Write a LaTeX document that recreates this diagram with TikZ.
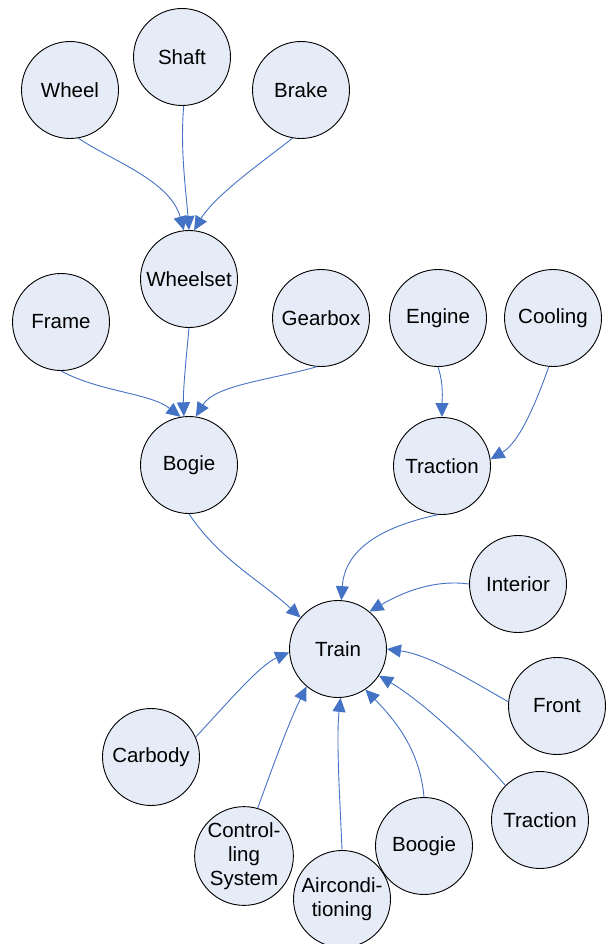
\documentclass[tikz,border=0pt]{standalone}
\usepackage{fontspec}
\setmainfont{Liberation Sans}
\usetikzlibrary{arrows.meta}
\definecolor{nodefill}{RGB}{230,236,247}
\definecolor{edgeblue}{RGB}{68,114,196}
\begin{document}
\begin{tikzpicture}[x=1pt,y=-1pt,
  part/.style={circle,draw=black,line width=0.9pt,fill=nodefill,minimum size=97pt,inner sep=0pt,
    font=\fontsize{20.5}{24}\selectfont,align=center},
  edge/.style={draw=edgeblue,line width=0.9pt,-{Triangle[length=14pt,width=13pt]}}]
\useasboundingbox (0,0) rectangle (613,944);

% components
\node[part] (wheel)    at (70,90)   {Wheel};
\node[part] (shaft)    at (182,57)  {Shaft};
\node[part] (brake)    at (301,90)  {Brake};
\node[part] (wheelset) at (189,279) {Wheelset};
\node[part] (frame)    at (61,322)  {Frame};
\node[part] (gearbox)  at (321,318) {Gearbox};
\node[part] (engine)   at (438,318) {Engine};
\node[part] (cooling)  at (553,318) {Cooling};
\node[part] (bogie)    at (189,465) {Bogie};
\node[part] (traction) at (442,466) {Traction};
\node[part] (interior) at (518,584) {Interior};
\node[part] (train)    at (338,649) {Train};
\node[part] (front)    at (557,706) {Front};
\node[part] (carbody)  at (151,757) {Carbody};
\node[part] (tractionb) at (540,820) {Traction};
\node[part] (boogie)   at (424,846) {Boogie};
\node[part] (control)  at (244,856) {Control-\\ling\\System};
\node[part] (aircon)   at (342,899) {Aircondi-\\tioning};

% wheelset
\draw[edge] (wheel.-80) .. controls (110,160) and (170,180) .. (wheelset.96);
\draw[edge] (shaft.-88) .. controls (180,150) and (186,190) .. (wheelset.90);
\draw[edge] (brake.-100) .. controls (265,160) and (215,195) .. (wheelset.84);

% bogie
\draw[edge] (wheelset.-90) .. controls (186,360) and (183,390) .. (bogie.96);
\draw[edge] (frame.-90) .. controls (100,392) and (150,393) .. (bogie.100);
\draw[edge] (gearbox.-95) .. controls (270,380) and (215,385) .. (bogie.82);

% traction
\draw[edge] (engine.-90) .. controls (444,385) and (442,400) .. (traction.90);
\draw[edge] (cooling.-95) .. controls (530,420) and (515,445) .. (traction.8);

% train
\draw[edge] (bogie.-90) .. controls (220,560) and (260,580) .. (train.140);
\draw[edge] (traction.-95) .. controls (390,525) and (345,545) .. (train.86);
\draw[edge] (interior.180) .. controls (440,580) and (410,588) .. (train.50);
\draw[edge] (front.175) .. controls (470,680) and (430,655) .. (train.0);
\draw[edge] (tractionb.135) .. controls (470,745) and (420,700) .. (train.-33);
\draw[edge] (boogie.90) .. controls (420,750) and (395,720) .. (train.-56);
\draw[edge] (aircon.90) .. controls (340,800) and (336,740) .. (train.-87);
\draw[edge] (control.74) .. controls (275,760) and (290,720) .. (train.-130);
\draw[edge] (carbody.24) .. controls (230,700) and (260,665) .. (train.184);
\end{tikzpicture}
\end{document}
